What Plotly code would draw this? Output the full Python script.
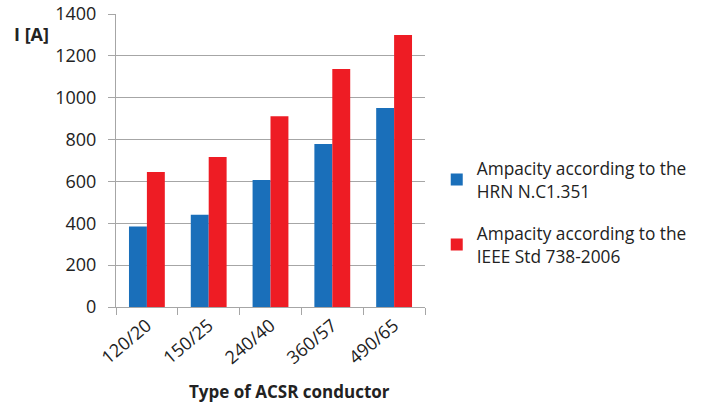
import plotly.graph_objects as go

conductors = ["120/20", "150/25", "240/40", "360/57", "490/65"]
hrn_values = [385, 441, 607, 779, 951]
ieee_values = [645, 717, 912, 1137, 1300]
hrn_name = "Ampacity according to the<br>HRN N.C1.351"
ieee_name = "Ampacity according to the<br>IEEE Std 738-2006"

font = "Open Sans, Liberation Sans, sans-serif"

fig = go.Figure()
fig.add_trace(go.Bar(x=conductors, y=hrn_values, name=hrn_name, legendgroup="hrn",
                     marker=dict(color="#1a6fba", line=dict(width=0))))
fig.add_trace(go.Bar(x=conductors, y=ieee_values, name=ieee_name, legendgroup="ieee",
                     marker=dict(color="#ee1c24", line=dict(width=0))))

fig.update_layout(
    width=704, height=406, autosize=False,
    margin=dict(l=116, r=271, t=14, b=99),
    paper_bgcolor="white", plot_bgcolor="white",
    barmode="group", bargap=0.42, bargroupgap=0,
    font=dict(family=font, size=18, color="#222"),
    showlegend=True,
    legend=dict(x=1.038, y=0.324, xanchor="left", yanchor="middle",
                font=dict(size=17.3, color="#222"), tracegroupgap=17,
                itemsizing="constant"),
    annotations=[
        dict(text="<b>I [A]</b>", x=-0.335, y=0.931, xref="paper", yref="paper",
             xanchor="left", yanchor="middle", showarrow=False,
             font=dict(size=18, color="#222")),
        dict(text="<b>Type of ACSR conductor</b>", x=0.5615, y=-0.29, xref="paper", yref="paper",
             xanchor="center", yanchor="middle", showarrow=False,
             font=dict(size=17, color="#222")),
    ],
)
fig.update_yaxes(range=[0, 1400], dtick=200, showgrid=True, gridcolor="#a6a6a6",
                 gridwidth=1.2, ticks="outside", ticklen=7, tickcolor="#a6a6a6",
                 showline=True, linecolor="#a6a6a6", linewidth=1.2, zeroline=False,
                 tickfont=dict(size=18), automargin=False, ticklabeloverflow="allow",
                 ticklabelstandoff=8)
fig.update_xaxes(tickangle=-40, ticks="outside", tickson="boundaries", ticklen=7,
                 tickcolor="#a6a6a6", showline=True, linecolor="#a6a6a6", linewidth=1.2,
                 tickfont=dict(size=18), automargin=False, ticklabeloverflow="allow")

# page body has a default 8px margin; drop it and keep the figure at 704x406
fig.write_html("out.html", config={"displayModeBar": False, "responsive": False},
               post_script="document.body.style.margin = '0';"
                           "Plotly.relayout(document.getElementById('{plot_id}'),"
                           " {width: 704, height: 406});")
